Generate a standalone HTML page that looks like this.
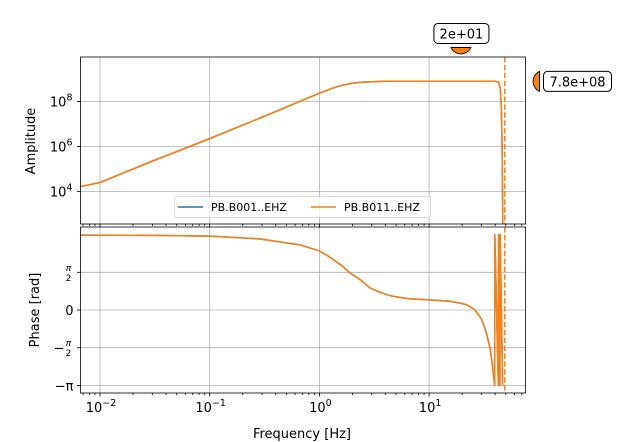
<!DOCTYPE html>
<html><head><meta charset="utf-8"><style>
html,body{margin:0;padding:0;background:#fff;}
svg{display:block;font-family:"DejaVu Sans","Liberation Sans",sans-serif;}
</style></head><body>
<svg id="chart" width="640" height="442" viewBox="0 0 640 442"></svg>
<script>
// ---- data ----
const ampFreq = [0.0066,0.01,0.03,0.1,0.3,0.5,0.7,1,1.3,1.6,2,2.5,3,4,10,20,40,43,44.5,45.5,46.3,47];
const ampLog  = [4.22,4.4,5.35,6.35,7.3,7.75,8.05,8.37,8.58,8.72,8.81,8.86,8.88,8.9,8.9,8.9,8.9,8.86,8.6,7.8,6.0,2.5];
const phaseFreq = [0.0066,0.03,0.1,0.29,0.67,1.0,1.2,1.6,1.9,2.3,2.9,3.5,4.4,5,6.5,10,15,19,22,26,30,33,36,38,39.6,39.7,42.8,43.0,44.2,44.4,46.8];
const phaseVal  = [3.12,3.11,3.08,2.96,2.71,2.46,2.25,1.85,1.54,1.3,0.92,0.75,0.6,0.55,0.47,0.42,0.37,0.29,0.22,0.02,-0.38,-0.9,-1.6,-2.4,-3.14,3.14,-3.14,3.14,-3.14,3.14,-3.14];
const seriesNames = ["PB.B001..EHZ","PB.B011..EHZ"];
const seriesColors = ["#1f77b4","#ff7f0e"];
const nyquist = 49.0;
const markerFreq = 19.5;
const markerAmp = 7.8e8;
const xTickExp = [-2,-1,0,1];
const ampTickExp = [4,6,8];
const phaseTicks = [-Math.PI,-Math.PI/2,0,Math.PI/2];
const phaseLabels = ["\u2212\u03c0","\u2212\u03c0/2","0","\u03c0/2"];

const NS="http://www.w3.org/2000/svg";
const svg=document.getElementById('chart');
function el(tag,attrs,parent){const e=document.createElementNS(NS,tag);for(const k in attrs)e.setAttribute(k,attrs[k]);(parent||svg).appendChild(e);return e;}

const L=80.5,R=525.5,T1=57,B1=224,T2=227,B2=393;
const xpx=109.7;
const X=f=>100+(Math.log10(f)+2)*xpx;
const Ya=e=>101.5-(e-8)*22.5;
const Yp=p=>310-p*24;

function grid(x1,y1,x2,y2){const g=el('line',{x1,y1,x2,y2,stroke:'#b0b0b0','stroke-width':0.8});}
xTickExp.forEach(e=>{const x=X(Math.pow(10,e));grid(x,T1,x,B1);grid(x,T2,x,B2);});
ampTickExp.forEach(e=>{grid(L,Ya(e),R,Ya(e));});
phaseTicks.forEach(p=>grid(L,Yp(p),R,Yp(p)));

const defs=el('defs',{});
const c1=el('clipPath',{id:'c1'},defs);el('rect',{x:L,y:T1,width:R-L,height:B1-T1},c1);
const c2=el('clipPath',{id:'c2'},defs);el('rect',{x:L,y:T2,width:R-L,height:B2-T2},c2);

function poly(fs,vs,yf,clip,color,name){
  const pts=fs.map((f,i)=>X(f).toFixed(2)+','+yf(vs[i]).toFixed(2)).join(' ');
  const p=el('polyline',{points:pts,fill:'none',stroke:color,'stroke-width':1.5,'clip-path':'url(#'+clip+')','stroke-linejoin':'round'});
  
  
}
seriesNames.forEach((n,i)=>{
  poly(ampFreq,ampLog,Ya,'c1',seriesColors[i],'amplitude-line-'+i);
  poly(phaseFreq,phaseVal,Yp,'c2',seriesColors[i],'phase-line-'+i);
});
[[T1,B1],[T2,B2]].forEach(([a,b])=>{const d=el('line',{x1:X(nyquist),y1:a,x2:X(nyquist),y2:b,stroke:'#ff7f0e','stroke-width':1.5,'stroke-dasharray':'5.5,2.4'});

});

[[T1,B1,'amplitude-axes'],[T2,B2,'phase-axes']].forEach(([a,b,n])=>{const r=el('rect',{x:L,y:a,width:R-L,height:b-a,fill:'none',stroke:'#000','stroke-width':0.8});

});

for(let e=-3;e<=1;e++){for(let m=1;m<10;m++){const f=m*Math.pow(10,e);const x=X(f);if(x<L||x>R)continue;const len=m===1?3.5:2;
  el('line',{x1:x,y1:B2,x2:x,y2:B2+len,stroke:'#000','stroke-width':0.8});
  el('line',{x1:x,y1:B1,x2:x,y2:B1+len,stroke:'#000','stroke-width':0.8});}}
xTickExp.forEach(e=>{const x=X(Math.pow(10,e));const t=el('text',{x:x+1,y:B2+19,'font-size':13,'text-anchor':'middle'});
  
  
  t.textContent='10';const s=el('tspan',{dy:-6,'font-size':9.5},t);s.textContent=(e<0?'\u2212':'')+Math.abs(e);});
ampTickExp.forEach(e=>{const y=Ya(e);el('line',{x1:L,y1:y,x2:L-3.5,y2:y,stroke:'#000','stroke-width':0.8});
  const t=el('text',{x:L-8,y:y+5,'font-size':13,'text-anchor':'end'});
  
  
  t.textContent='10';const s=el('tspan',{dy:-6,'font-size':9.5},t);s.textContent=e;});
phaseTicks.forEach((p,i)=>{const y=Yp(p);el('line',{x1:L,y1:y,x2:L-3.5,y2:y,stroke:'#000','stroke-width':0.8});
  const lab=phaseLabels[i];
  if(lab.indexOf('/2')>=0){
    const neg=lab[0]==='\u2212';
    const g=el('g',{});
    
    
    if(neg){const m=el('text',{x:L-16,y:y+5,'font-size':13,'text-anchor':'end'},g);m.textContent='\u2212';}
    const a=el('text',{x:L-12,y:y-1.5,'font-size':9,'text-anchor':'middle','font-style':'italic'},g);a.textContent='\u03c0';
    const b=el('text',{x:L-12,y:y+8.5,'font-size':9,'text-anchor':'middle'},g);b.textContent='2';
  } else {
    const t=el('text',{x:L-7,y:y+5,'font-size':13,'text-anchor':'end'});
    
    
    t.textContent=lab;
  }
});

function title(txt,x,y,rot,name){const t=el('text',{x,y,'font-size':13,'text-anchor':'middle',transform:rot?`rotate(-90 ${x} ${y})`:''});
  
  
  t.textContent=txt;}
title('Amplitude',35,141,true,'amplitude-axis-title');
title('Phase [rad]',39,310,true,'phase-axis-title');
title('Frequency [Hz]',302,438,false,'x-axis-title');

const lg=el('g',{});


el('rect',{x:174.5,y:196.5,width:256,height:21,rx:2,fill:'#fff','fill-opacity':0.8,stroke:'#d0d0d0','stroke-width':0.8},lg);
seriesNames.forEach((n,i)=>{const ox=i===0?178:311;
  const g=el('g',{},lg);
  
  
  el('line',{x1:ox,y1:207,x2:ox+25,y2:207,stroke:seriesColors[i],'stroke-width':1.5},g);
  const t=el('text',{x:ox+33,y:211,'font-size':11},g);t.textContent=n;});

const mx=X(markerFreq);
const m1=el('path',{d:`M${mx-10},47.5 L${mx+10},47.5 A11,11 0 0 1 ${mx-10},47.5 Z`,fill:'#ff7f0e',stroke:'#000','stroke-width':0.9});


const b1=el('g',{});


el('rect',{x:mx-27,y:23.5,width:55,height:20,rx:4,fill:'#fff',stroke:'#000','stroke-width':1},b1);
const t1=el('text',{x:mx+0.5,y:38.5,'font-size':13,'text-anchor':'middle'},b1);t1.textContent='2e+01';
const my=Ya(Math.log10(markerAmp));
const m2=el('path',{d:`M539.5,${my+10} L539.5,${my-10} A11,11 0 0 0 539.5,${my+10} Z`,fill:'#ff7f0e',stroke:'#000','stroke-width':0.9});


const b2=el('g',{});


el('rect',{x:543.5,y:my-10,width:68,height:20,rx:4,fill:'#fff',stroke:'#000','stroke-width':1},b2);
const t2=el('text',{x:577.5,y:my+5,'font-size':13,'text-anchor':'middle'},b2);t2.textContent='7.8e+08';
</script>
</body></html>
